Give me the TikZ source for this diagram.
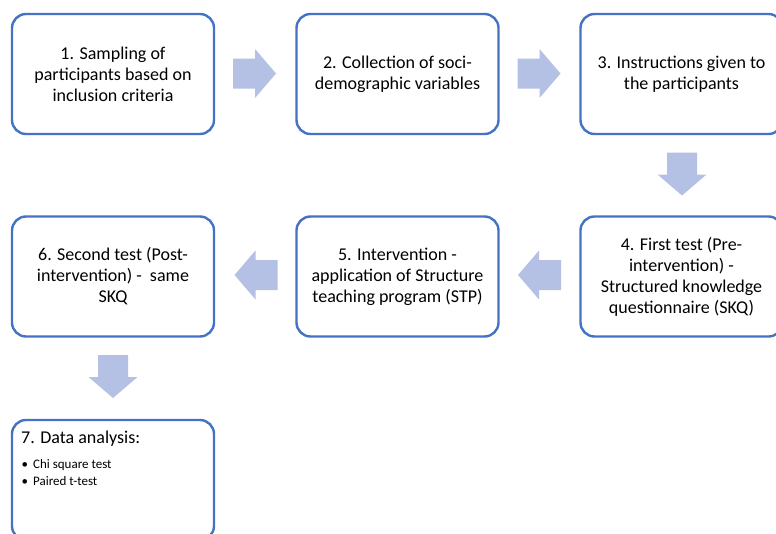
\documentclass[tikz,border=0pt]{standalone}
\usepackage{fontspec}
\setmainfont{Carlito}
\definecolor{boxblue}{RGB}{68,114,196}
\definecolor{arrowfill}{RGB}{180,192,228}
\tikzset{
  stepbox/.style={draw=boxblue, line width=2.4pt, rounded corners=14pt,
    minimum width=202pt, minimum height=120pt, inner sep=0pt,
    align=center, font=\fontsize{18}{21}\selectfont},
  blockarrow/.pic={\fill[arrowfill] (-21.5,-15) -- (0.5,-15) -- (0.5,-24.5) -- (21.5,0)
     -- (0.5,24.5) -- (0.5,15) -- (-21.5,15) -- cycle;}
}
\begin{document}
\begin{tikzpicture}[x=1pt,y=-1pt]
\useasboundingbox (0,0) rectangle (776,533);
\clip (0,0) rectangle (776,533);
\node[stepbox] (b1) at (113,74) {1. Sampling of\\participants based on\\inclusion criteria};
\node[stepbox] (b2) at (397.5,74) {2. Collection of soci-\\demographic variables};
\node[stepbox] (b3) at (681.5,74) {3. Instructions given to\\the participants};
\node[stepbox] (b4) at (681.5,276.5) {4. First test (Pre-\\intervention) -\\Structured knowledge\\questionnaire (SKQ)};
\node[stepbox] (b5) at (397.5,276.5) {5. Intervention -\\application of Structure\\teaching program (STP)};
\node[stepbox] (b6) at (113,276.5) {6. Second test (Post-\\intervention) -~ same\\SKQ};
\node[stepbox] (b7) at (113,480) {};
\node[anchor=west, inner sep=0pt, font=\fontsize{18}{21}\selectfont] (t7) at (21,438.5) {7. Data analysis:};
\node[anchor=west, inner sep=0pt, font=\fontsize{13}{17}\selectfont, align=left] (l7) at (21.5,472.5)
  {\textbullet\hspace{5pt}Chi square test\\\textbullet\hspace{5pt}Paired t-test};
\pic at (254.5,73.5) {blockarrow};
\pic at (539,73.5) {blockarrow};
\pic[rotate=-90] at (682,174) {blockarrow};
\pic[rotate=180] at (539.5,275) {blockarrow};
\pic[rotate=180] at (256,275) {blockarrow};
\pic[rotate=-90] at (113,376.5) {blockarrow};
\end{tikzpicture}
\end{document}
